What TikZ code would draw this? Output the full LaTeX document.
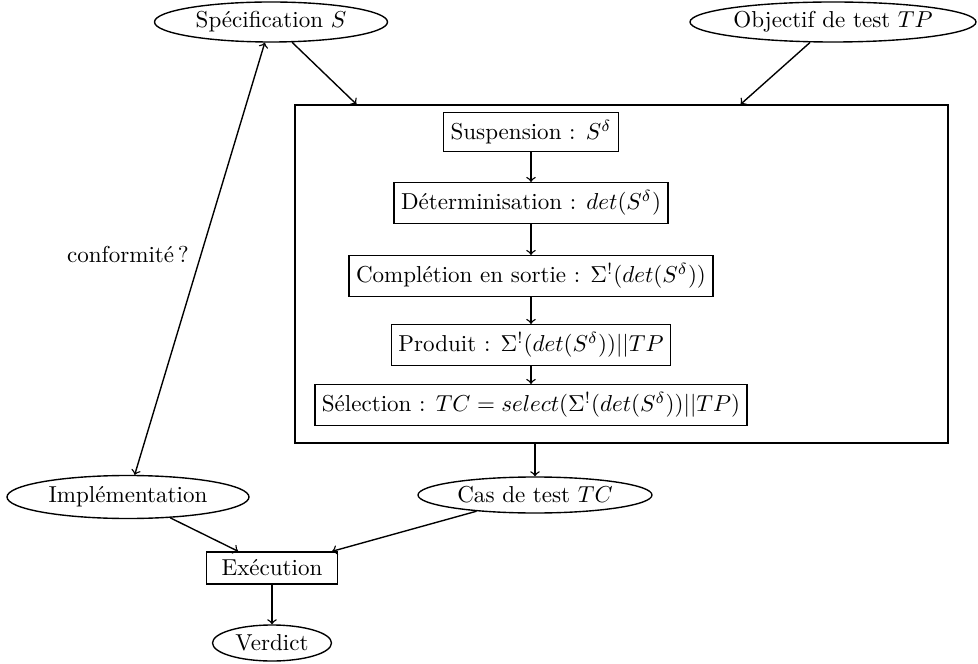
\documentclass[tikz,border=0pt]{standalone}
\usepackage{tikz}
\usetikzlibrary{shapes.geometric,calc}
\newcommand\pxu{0.434pt}
\begin{document}
\begin{tikzpicture}[x=0.434pt,y=-0.434pt,semithick,
  oval/.style={draw,ellipse,inner sep=0pt},
  stepbox/.style={draw,rectangle,inner xsep=3pt,minimum height=39*\pxu},
  link/.style={->}]
\useasboundingbox (0,0) rectangle (978,664);

% inputs
\node[oval,minimum width=233*\pxu,minimum height=40*\pxu] (spec) at (271,22) {Spécification $S$};
\node[oval,minimum width=286*\pxu,minimum height=40*\pxu] (obj) at (833,22) {Objectif de test $TP$};

% generation frame and its steps
\node[draw,rectangle,minimum width=653*\pxu,minimum height=338*\pxu] (frame) at (621.5,274) {};
\node[stepbox] (susp) at (531,132) {Suspension : $S^\delta$};
\node[stepbox] (det) at (531,203) {Déterminisation : $det(S^\delta)$};
\node[stepbox] (comp) at (531,276) {Complétion en sortie : $\Sigma^!(det(S^\delta))$};
\node[stepbox] (prod) at (531,345) {Produit : $\Sigma^!(det(S^\delta))||TP$};
\node[stepbox] (sel) at (531,405) {Sélection : $TC = select(\Sigma^!(det(S^\delta))||TP)$};

% outputs
\node[oval,minimum width=234*\pxu,minimum height=36*\pxu] (cas) at (535,495) {Cas de test $TC$};
\node[oval,minimum width=242*\pxu,minimum height=43*\pxu] (impl) at (128,497) {Implémentation};
\node[draw,rectangle,minimum width=131*\pxu,minimum height=32*\pxu] (exec) at (272,568) {Exécution};
\node[oval,minimum width=119*\pxu,minimum height=36*\pxu] (verd) at (272,643) {Verdict};

\node (conf) at (128,255) {conformité\,?};

% entry points on the frame
\coordinate (inS) at ($(frame.north west)!0.095!(frame.north east)$);
\coordinate (inTP) at ($(frame.north west)!0.682!(frame.north east)$);

\draw[link] (spec) -- (inS);
\draw[link] (obj) -- (inTP);
\draw[link] (susp) -- (det);
\draw[link] (det) -- (comp);
\draw[link] (comp) -- (prod);
\draw[link] (prod) -- (sel);
\draw[link] (cas.north |- frame.south) -- (cas);
\draw[<->] (impl) -- (spec);
\draw[link] (impl) -- (exec);
\draw[link] (cas) -- (exec);
\draw[link] (exec) -- (verd);
\end{tikzpicture}
\end{document}
